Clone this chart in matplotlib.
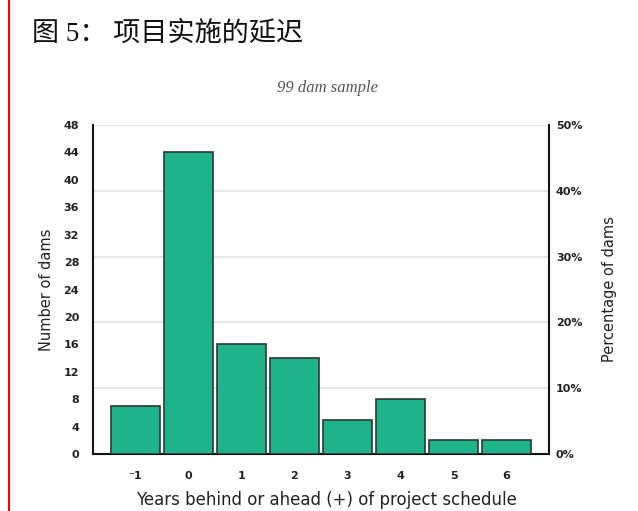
import matplotlib
matplotlib.use('Agg')
import matplotlib.pyplot as plt
from matplotlib.lines import Line2D

# Schedule slippage of dam projects
years = [-1, 0, 1, 2, 3, 4, 5, 6]
year_labels = ['⁻1', '0', '1', '2', '3', '4', '5', '6']
dams = [7, 44, 16, 14, 5, 8, 2, 2]
count_ticks = list(range(0, 49, 4))
pct_ticks = [0, 10, 20, 30, 40, 50]
pct_labels = [f'{p}%' for p in pct_ticks]

title_text = '图 5： 项目实施的延迟'
subtitle_text = '99 dam sample'
xlabel_text = 'Years behind or ahead (+) of project schedule'
ylabel_left = 'Number of dams'
ylabel_right = 'Percentage of dams'

BAR = '#1fb38c'
EDGE = '#2b3a35'
GRID = '#e2e2e2'
TXT = '#222222'

fig = plt.figure(figsize=(6.38, 5.11), dpi=100)
fig.patch.set_facecolor('white')

ax = fig.add_axes([0.1458, 0.1115, 0.7147, 0.6438])
ax2 = ax.twinx()
ax.set_zorder(ax2.get_zorder() + 1)
ax.patch.set_visible(False)

ax.bar(years, dams, width=0.93, color=BAR, edgecolor=EDGE, linewidth=1.2, zorder=3)
ax.set_xlim(-1.8, 6.8)
ax.set_ylim(0, 48)
ax.set_xticks(years)
ax.set_xticklabels(year_labels)
ax.set_yticks(count_ticks)

ax2.set_ylim(0, 50)
ax2.set_yticks(pct_ticks)
ax2.set_yticklabels(pct_labels)
ax2.yaxis.grid(True, color=GRID, linewidth=1.2)
ax2.set_axisbelow(True)

for a in (ax, ax2):
    a.spines['top'].set_visible(False)
    for s in ('left', 'right', 'bottom'):
        a.spines[s].set_linewidth(1.5)
        a.spines[s].set_color('#111111')
ax.spines['right'].set_visible(False)
ax2.spines['left'].set_visible(False)
ax2.spines['bottom'].set_visible(False)

ax.tick_params(axis='x', length=0, pad=12, labelsize=8, labelcolor=TXT)
ax.tick_params(axis='y', length=0, pad=10, labelsize=8, labelcolor=TXT)
ax2.tick_params(axis='y', length=0, pad=5, labelsize=8, labelcolor=TXT)
for lab in ax.get_xticklabels() + ax.get_yticklabels() + ax2.get_yticklabels():
    lab.set_fontweight('bold')

ax.set_ylabel(ylabel_left, fontsize=10.5, color=TXT, labelpad=7)
ax2.set_ylabel(ylabel_right, fontsize=10.5, color=TXT, labelpad=14)

fig.text(0.512, 0.004, xlabel_text, ha='center', va='bottom', fontsize=12, color=TXT)
fig.text(0.514, 0.828, subtitle_text, ha='center', va='center', fontsize=12,
         style='italic', family='Liberation Serif', color='#555555')
fig.text(0.050, 0.933, title_text, ha='left', va='center', fontsize=19.5,
         family=['Liberation Serif', 'Noto Sans CJK SC'], color='#111111')

fig.add_artist(Line2D([0.0136, 0.0136], [0, 1], color='red', linewidth=1.5,
                      transform=fig.transFigure))

fig.savefig('out.png', dpi=100)
